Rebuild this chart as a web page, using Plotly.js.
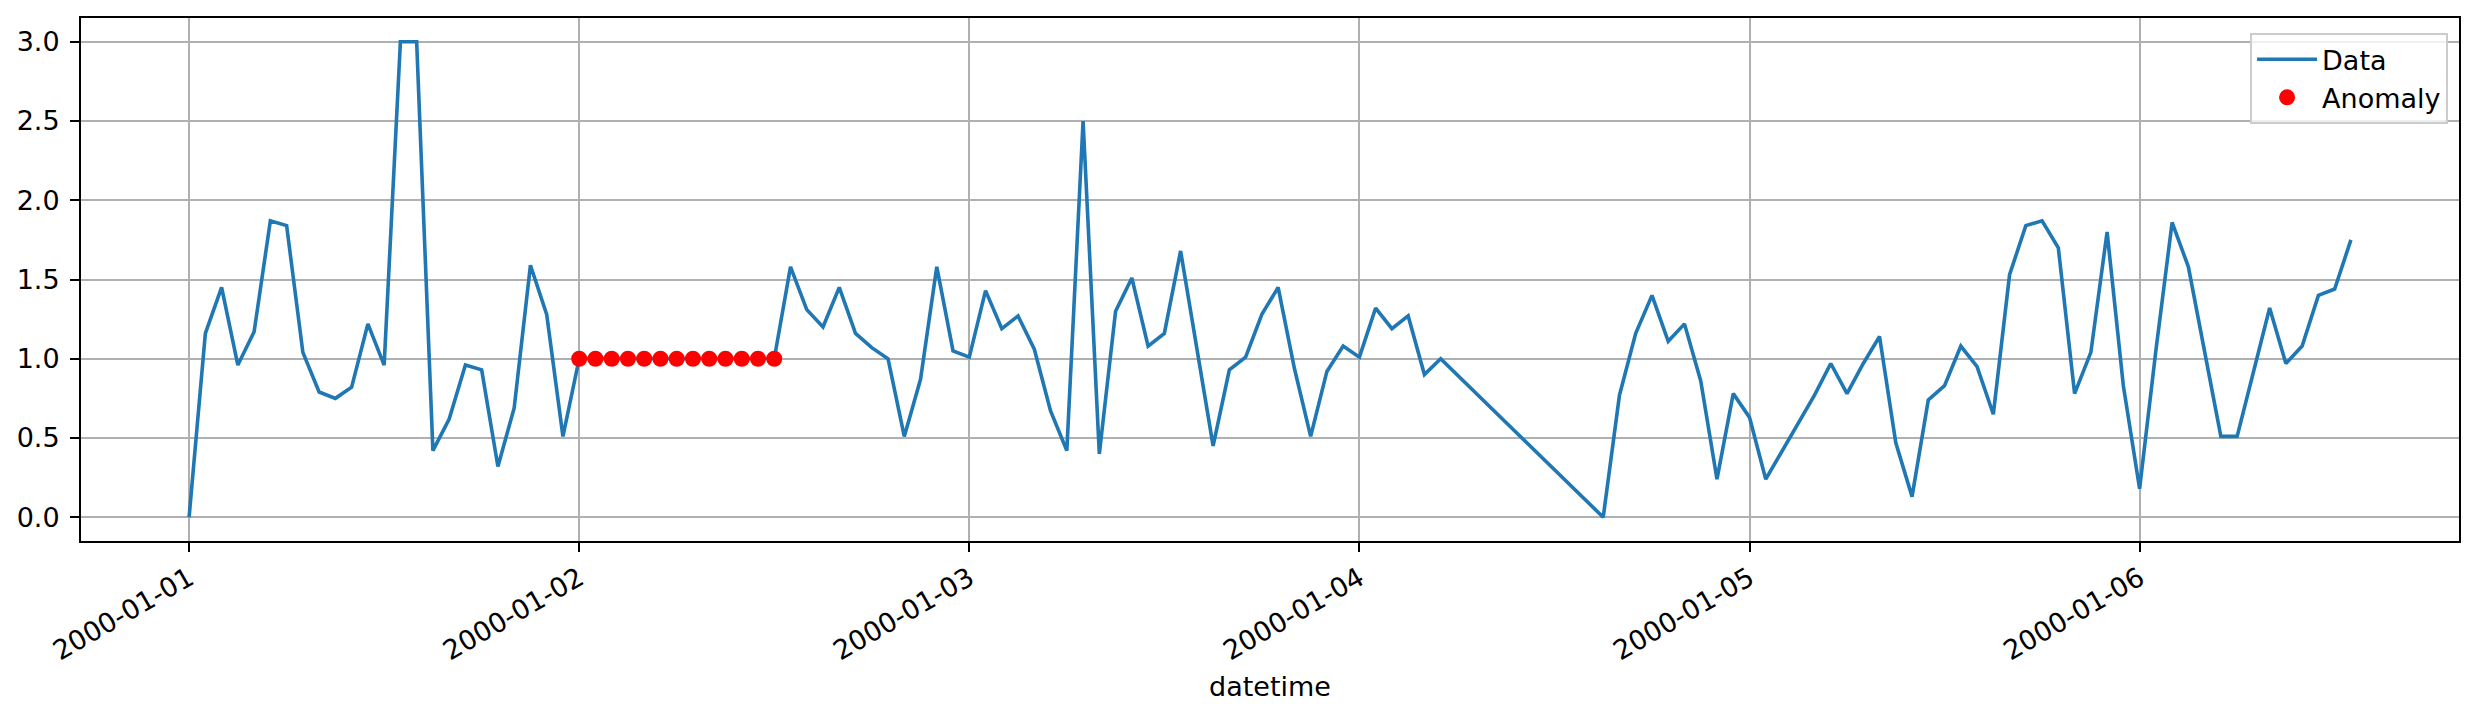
<!DOCTYPE html>
<html>
<head>
<meta charset="utf-8">
<script src="https://cdn.plot.ly/plotly-3.0.1.min.js"></script>
<style>html,body{margin:0;padding:0;background:#fff;}</style>
</head>
<body>
<div id="chart" style="width:2480px;height:715px;"></div>
<script>
// Hour offsets from 2000-01-01 00:00 (hourly data, with missing hours)
const dataHours = [
  0,1,2,3,4,5,6,7,8,9,10,11,12,13,14,15,16,17,18,19,20,21,22,23,
  24,25,26,27,28,29,30,31,32,33,34,35,36,37,38,39,40,41,42,43,44,45,46,47,
  48,49,50,51,52,53,54,55,56,57,58,59,60,61,62,63,64,65,66,67,68,69,70,71,
  72,73,74,75,76,77,87,88,89,90,91,92,93,94,95,
  96,97,100,101,102,103,104,105,106,107,108,109,110,111,112,113,114,115,116,117,118,119,
  120,121,122,123,124,125,126,127,128,129,130,131,132,133
];
const dataValues = [
  0.00,1.16,1.45,0.96,1.17,1.87,1.84,1.04,0.79,0.75,0.82,1.22,0.96,3.00,3.00,0.42,0.62,0.96,0.93,0.32,0.69,1.59,1.28,0.51,
  1.00,1.00,1.00,1.00,1.00,1.00,1.00,1.00,1.00,1.00,1.00,1.00,1.00,1.58,1.31,1.20,1.45,1.16,1.07,1.00,0.51,0.87,1.58,1.05,
  1.01,1.43,1.19,1.27,1.06,0.67,0.42,2.50,0.40,1.30,1.51,1.08,1.16,1.68,1.05,0.45,0.93,1.01,1.28,1.45,0.94,0.51,0.92,1.08,
  1.01,1.32,1.19,1.27,0.90,1.00,0.00,0.77,1.16,1.40,1.11,1.22,0.86,0.24,0.78,
  0.63,0.24,0.77,0.97,0.78,0.97,1.14,0.47,0.13,0.74,0.83,1.08,0.95,0.65,1.53,1.84,1.87,1.70,0.78,1.04,1.80,0.83,
  0.18,1.05,1.86,1.58,1.04,0.51,0.51,0.91,1.32,0.97,1.08,1.40,1.44,1.75
];
const anomalyHours = [24,25,26,27,28,29,30,31,32,33,34,35,36];
const anomalyValues = [1,1,1,1,1,1,1,1,1,1,1,1,1];
const tickDates = ['2000-01-01','2000-01-02','2000-01-03','2000-01-04','2000-01-05','2000-01-06'];
const tickLabels = ['2000-01-01','2000-01-02','2000-01-03','2000-01-04','2000-01-05','2000-01-06'];

const BASE = Date.UTC(2000,0,1);
function toDate(ms){ return new Date(ms).toISOString().slice(0,19).replace('T',' '); }
function hourToDate(h){ return toDate(BASE + h*3600e3); }

const xData = dataHours.map(hourToDate);
const xAnom = anomalyHours.map(hourToDate);

const h0 = dataHours[0], h1 = dataHours[dataHours.length-1];
const pad = 0.05*(h1-h0);
const xRange = [toDate(BASE + (h0-pad)*3600e3), toDate(BASE + (h1+pad)*3600e3)];

const FS = 27;
const traces = [
  {x: xData, y: dataValues, type:'scatter', mode:'lines', name:'Data',
   line:{color:'#1f77b4', width:3.6}},
  {x: xAnom, y: anomalyValues, type:'scatter', mode:'markers', name:'Anomaly',
   marker:{color:'#ff0000', size:16}}
];

const axisCommon = {
  showline:true, mirror:true, linecolor:'#000', linewidth:2,
  ticks:'outside', ticklen:9, tickwidth:2, tickcolor:'#000',
  showgrid:true, gridcolor:'#b0b0b0', gridwidth:2, zeroline:false,
  tickfont:{family:'DejaVu Sans', size:FS, color:'#000'}
};

const layout = {
  width:2480, height:715,
  margin:{l:81, r:21, t:18, b:174},
  paper_bgcolor:'#fff', plot_bgcolor:'#fff',
  font:{family:'DejaVu Sans', size:FS, color:'#000'},
  showlegend:true,
  legend:{x:0.9954, y:0.971, xanchor:'right', yanchor:'top',
    bgcolor:'rgba(255,255,255,0.8)', bordercolor:'#cccccc', borderwidth:2,
    font:{family:'DejaVu Sans', size:FS, color:'#000'}, itemwidth:60},
  xaxis: Object.assign({}, axisCommon, {
    type:'date', range:xRange,
    tickmode:'array', tickvals:tickDates, ticktext:tickLabels,
    tickangle:-30,
    title:{text:'datetime', font:{family:'DejaVu Sans', size:FS, color:'#000'}, standoff:12}
  }),
  yaxis: Object.assign({}, axisCommon, {
    range:[-0.15, 3.15], dtick:0.5, tick0:0, tickformat:'.1f',
    ticklabelstandoff:5
  })
};

Plotly.newPlot('chart', traces, layout, {staticPlot:true, displayModeBar:false});
</script>
</body>
</html>
